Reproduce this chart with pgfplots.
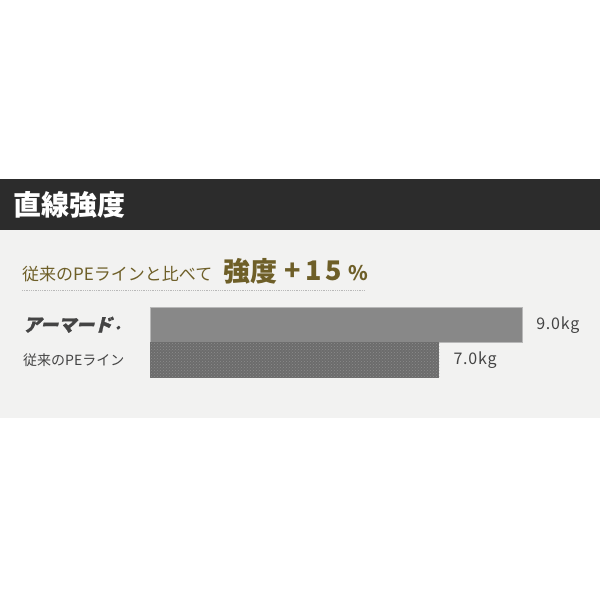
\documentclass[border=0pt]{standalone}
\usepackage{fontspec}
\usepackage{pgfplots}
\pgfplotsset{compat=1.18}
\usetikzlibrary{patterns}
\setmainfont{Noto Sans CJK JP}
\newfontfamily\cjk{Noto Sans CJK JP}
\newfontfamily\logo[FakeSlant=0.25, BoldFeatures={FakeSlant=0.25,FakeBold=1.5}]{Noto Sans CJK JP}
\definecolor{band}{HTML}{2C2C2C}
\definecolor{panel}{HTML}{F2F2F1}
\definecolor{olive}{HTML}{6E5F28}
\definecolor{txt}{HTML}{444444}
\definecolor{barA}{HTML}{888888}
\definecolor{barB}{HTML}{6C6C6C}

\begin{document}
\begin{tikzpicture}
% page background, header band and light panel (1pt = 1px of the reference)
\fill[white] (0pt,0pt) rectangle (600pt,600pt);
\fill[band] (0pt,370pt) rectangle (600pt,421pt);
\fill[panel] (0pt,182pt) rectangle (600pt,370pt);
\node[anchor=west, inner sep=0, text=white, font=\cjk\bfseries\fontsize{28}{30}\selectfont]
  at (13pt,395pt) {直線強度};

% headline
\node[anchor=base west, inner sep=0, text=olive, font=\cjk\fontsize{17}{19}\selectfont]
  at (22pt,319pt) {従来のPEラインと比べて};
\node[anchor=base west, inner sep=0, text=olive, font=\cjk\bfseries\fontsize{27}{29}\selectfont]
  at (223pt,318pt) {強度};
\node[anchor=base west, inner sep=0, text=olive, font=\cjk\bfseries\fontsize{27}{29}\selectfont]
  at (284pt,319pt) {+\hspace{5pt}1\hspace{3pt}5};
\node[anchor=base west, inner sep=0, text=olive, font=\cjk\bfseries\fontsize{20}{22}\selectfont]
  at (348pt,319pt) {\%};
\draw[gray!55, densely dotted, line width=0.8pt] (22pt,310pt) -- (365pt,310pt);

\begin{axis}[
    at={(150pt,222pt)}, anchor=south west,
    scale only axis,
    width=372pt, height=71pt,
    xmin=0, xmax=9,
    ymin=-0.5, ymax=1.5,
    axis line style={draw=none},
    xtick=\empty,
    ytick={0,1},
    yticklabels={{\cjk\fontsize{14}{16}\selectfont 従来のPEライン},
                 {\logo\bfseries\fontsize{18}{20}\selectfont アーマード\hspace{3pt}\raisebox{-1pt}{\fontsize{8}{9}\selectfont\upshape ®}}},
    yticklabel style={anchor=west, inner sep=0, xshift=-127pt, text=txt},
    major tick length=0pt,
    /pgf/number format/assume math mode=true,
    xbar, bar width=35.5pt, bar shift=0pt,
    clip=false,
    nodes near coords={\pgfmathprintnumber[fixed,fixed zerofill,precision=1]{\pgfplotspointmeta}kg},
    nodes near coords style={anchor=west, inner sep=0, xshift=14pt, text=txt,
      font=\cjk\fontsize{16}{18}\selectfont\addfontfeature{LetterSpace=5}},
]
\addplot[fill=barA, draw=black!28, line width=0.6pt] coordinates {(9.0,1)};
\addplot[fill=barB, draw=none,
  postaction={pattern=crosshatch dots, pattern color=black!45}] coordinates {(7.0,0)};
\end{axis}
\end{tikzpicture}
\end{document}
